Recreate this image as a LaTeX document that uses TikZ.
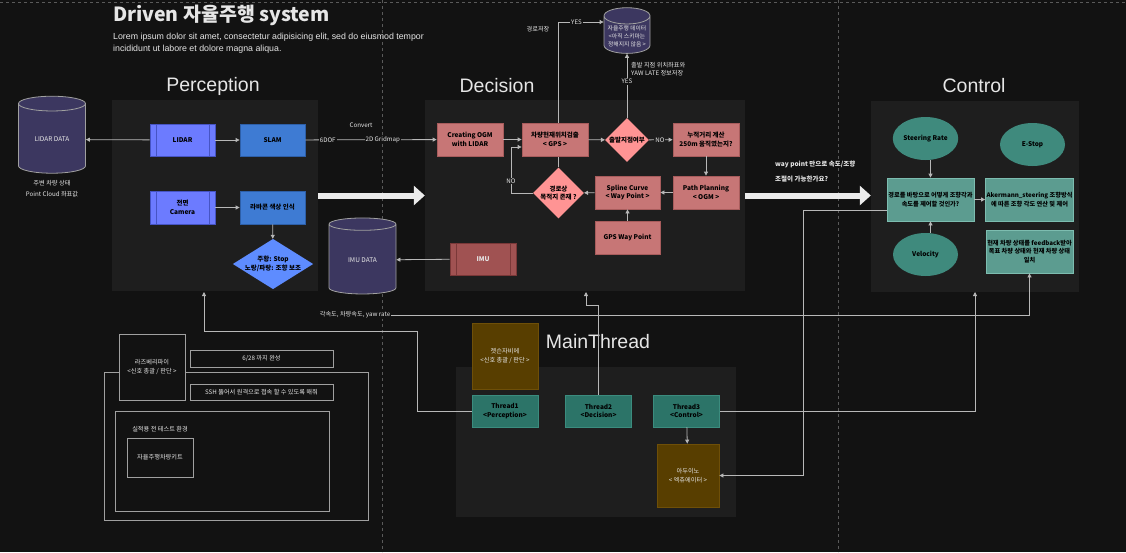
\documentclass[tikz,border=0pt]{standalone}
\usepackage{fontspec}
\setmainfont{Noto Sans CJK KR}
\newfontfamily\headfont{Liberation Sans}
\usetikzlibrary{shapes.geometric, arrows.meta}

\definecolor{bgcol}{HTML}{121212}
\definecolor{panelcol}{HTML}{1E1E1E}
\definecolor{guidecol}{HTML}{5A5A5A}
\definecolor{linecol}{HTML}{B8B8B8}
\definecolor{textcol}{HTML}{E6E6E6}
\definecolor{datafill}{HTML}{3C3760}
\definecolor{sensorfill}{HTML}{6C7BFF}
\definecolor{sensorline}{HTML}{4654C4}
\definecolor{slamfill}{HTML}{3E7BD3}
\definecolor{slamline}{HTML}{2D5FA8}
\definecolor{conefill}{HTML}{5E8CFF}
\definecolor{decfill}{HTML}{C77676}
\definecolor{decline}{HTML}{A85C5C}
\definecolor{diafill}{HTML}{FF9494}
\definecolor{imufill}{HTML}{A05252}
\definecolor{imuline}{HTML}{7A3838}
\definecolor{ctrlfill}{HTML}{5C9C90}
\definecolor{ctrlline}{HTML}{7DBDB0}
\definecolor{ovalfill}{HTML}{3F8A7D}
\definecolor{threadfill}{HTML}{2C7468}
\definecolor{threadline}{HTML}{3B8C7E}
\definecolor{boardfill}{HTML}{583E00}
\definecolor{boardline}{HTML}{6E4F08}
\definecolor{outlinecol}{HTML}{A0A0A0}

\pgfdeclarelayer{back}
\pgfdeclarelayer{mid}
\pgfsetlayers{back,mid,main}

\begin{document}
\begin{tikzpicture}[
    x=1pt, y=-1pt,
    every node/.style={align=center, inner sep=1pt, text=textcol, font=\fontsize{6.5}{8.5}\selectfont\bfseries},
    panel/.style={fill=panelcol, inner sep=0pt},
    heading/.style={font=\headfont\fontsize{19.5}{21}\selectfont},
    boxbase/.style={draw, line width=0.8pt, minimum width=65pt, minimum height=32pt, text=black},
    twinbar/.style={path picture={\draw[#1, line width=0.8pt]
        ([xshift=6pt]path picture bounding box.north west) -- ([xshift=6pt]path picture bounding box.south west)
        ([xshift=-6pt]path picture bounding box.north east) -- ([xshift=-6pt]path picture bounding box.south east);}},
    sensor/.style={boxbase, fill=sensorfill, draw=sensorline, twinbar=sensorline},
    slambox/.style={boxbase, fill=slamfill, draw=slamline},
    conedia/.style={diamond, fill=conefill, inner sep=0pt, aspect=1.6, text=black},
    decbox/.style={boxbase, fill=decfill, draw=decline, minimum width=66pt, minimum height=33pt},
    decdia/.style={diamond, fill=diafill, inner sep=0pt, text=black},
    imubox/.style={boxbase, fill=imufill, draw=imuline, twinbar=imuline, text=textcol},
    ctrlbox/.style={draw=ctrlline, fill=ctrlfill, line width=0.8pt, minimum width=87pt, minimum height=43pt, text=black, font=\fontsize{6.2}{8.5}\selectfont\bfseries},
    oval/.style={ellipse, fill=ovalfill, minimum width=65pt, minimum height=43pt, text=black},
    threadbox/.style={boxbase, fill=threadfill, draw=threadline, minimum width=66pt},
    boardbox/.style={fill=boardfill, draw=boardline, line width=0.8pt, font=\fontsize{6.2}{8.5}\selectfont},
    outlinebox/.style={draw=outlinecol, fill=bgcol, line width=1pt, font=\fontsize{6.2}{8.5}\selectfont},
    datacyl/.style={cylinder, shape border rotate=90, aspect=0.4, draw=outlinecol, fill=datafill, line width=0.8pt, font=\fontsize{6.5}{9}\selectfont},
    lbl/.style={font=\fontsize{6.2}{8}\selectfont, fill=#1},
    lbl/.default=bgcol,
    arrow/.style={draw=linecol, line width=0.8pt, -{Triangle[length=4pt, width=4pt]}},
    bigarrow/.style={draw=white!92!black, line width=6pt, -{Triangle[length=11pt, width=19pt]}},
    guide/.style={draw=guidecol, dashed, line width=0.6pt}
  ]

  \useasboundingbox (0,0) rectangle (1126,552);

  % background, guides and panels
  \begin{pgfonlayer}{back}
    \fill[bgcol] (0,0) rectangle (1126,552);
    \draw[guide] (0,2) -- (1126,2);
    \draw[guide] (382,0) -- (382,552);
    \draw[guide] (838,0) -- (838,552);
    \node[panel, minimum width=206pt, minimum height=191pt] (percpanel) at (215,195.5) {};
    \node[panel, minimum width=320pt, minimum height=191pt] (decpanel) at (585,195.5) {};
    \node[panel, minimum width=208pt, minimum height=191pt] (ctrlpanel) at (975,196.5) {};
    \node[panel, minimum width=280pt, minimum height=150pt] (mtpanel) at (596,442) {};
  \end{pgfonlayer}

  % title
  \node[anchor=west, font=\fontsize{19.5}{21}\selectfont\bfseries] (title) at (112,15) {Driven 자율주행 system};
  \node[anchor=north west, align=left, font=\headfont\fontsize{8.8}{11.5}\selectfont] (intro) at (112,32)
    {Lorem ipsum dolor sit amet, consectetur adipisicing elit, sed do eiusmod tempor\\incididunt ut labore et dolore magna aliqua.};

  \node[heading] (perchead) at (213,86) {Perception};
  \node[heading] (dechead) at (497,86) {Decision};
  \node[heading] (ctrlhead) at (974,86) {Control};
  \node[heading] (mthead) at (598,342) {MainThread};

  % perception
  \node[datacyl, minimum width=67pt, minimum height=77pt] (lidardata) at (52,139.5) {LIDAR DATA};
  \node[font=\fontsize{6.2}{11}\selectfont] (lidarnote) at (52,188.5) {주변 차량 상태\\Point Cloud 좌표값};
  \node[sensor] (lidar) at (182.5,140) {LIDAR};
  \node[slambox] (slam) at (272.5,140) {SLAM};
  \node[sensor, minimum height=33pt] (camera) at (182.5,207.5) {전면\\Camera};
  \node[slambox, minimum height=33pt] (cone) at (272.5,207.5) {라바콘 색상 인식};
  \node[conedia, minimum width=78pt, minimum height=48pt] (conesign) at (273,264) {주황: Stop\\노랑/파랑: 조향 보조};

  \draw[arrow] (lidar) -- (lidardata);
  \draw[arrow] (lidar) -- (slam);
  \draw[arrow] (camera) -- (cone);
  \draw[arrow] (cone) -- (conesign);

  % decision
  \node[decbox] (ogm) at (470,139.5) {Creating OGM\\with LIDAR};
  \node[decbox] (gps) at (555,139.5) {차량현재위치검출\\< GPS >};
  \node[decdia, minimum width=44pt, minimum height=44pt] (startdia) at (627,140) {출발지점여부};
  \node[decbox] (dist) at (706,139.5) {누적거리 계산\\250m 움직였는지?};
  \node[decbox] (pathplan) at (706,192.5) {Path Planning\\< OGM >};
  \node[decbox, minimum width=65pt] (spline) at (627.5,192.5) {Spline Curve\\< Way Point >};
  \node[decdia, minimum width=50pt, minimum height=48pt] (goaldia) at (558.5,193) {경로상\\목적지 존재 ?};
  \node[decbox, minimum width=65pt] (gpswp) at (627.5,237.5) {GPS Way Point};
  \node[imubox, minimum width=66pt] (imu) at (483,259) {IMU};
  \node[datacyl, minimum width=67pt, minimum height=76pt] (imudata) at (362.5,260) {IMU DATA};
  \node[datacyl, minimum width=46pt, minimum height=42pt, font=\fontsize{5.8}{8}\selectfont] (autodata) at (627,36) {자율주행 데이터\\<아직 스키마는\\정해지지 않음 >};
  \node[anchor=west, align=left, font=\fontsize{6.2}{8}\selectfont] (savenote) at (630,69) {출발 지점 위치좌표와\\YAW LATE 정보저장};
  \node[font=\fontsize{6.2}{8}\selectfont] (pathsave) at (538,29) {경로저장};
  \coordinate (yesbend) at (558.5,22);
  \coordinate (nobend) at (511,147);

  \draw[arrow] (slam) -- node[lbl, pos=0.17] {6DOF} node[lbl, pos=0.59] {2D Gridmap} (ogm);
  \node[font=\fontsize{6.2}{8}\selectfont] (convert) at (361,125) {Convert};
  \draw[arrow] (imu) -- (imudata);
  \draw[arrow] (ogm) -- (gps);
  \draw[arrow] (gps) -- (startdia);
  \draw[arrow] (startdia) -- node[lbl=panelcol, pos=0.46] {NO} (dist);
  \draw[arrow] (dist) -- (pathplan);
  \draw[arrow] (pathplan) -- (spline);
  \draw[arrow] (gpswp) -- (spline);
  \draw[arrow] (spline) -- (goaldia);
  \draw[arrow] (goaldia.west) -| node[lbl=panelcol, pos=0.63] {NO} (nobend) -- (nobend -| gps.west);
  \draw[arrow] (startdia.north) -- node[lbl, pos=0.57] {YES} (autodata.south);
  \begin{pgfonlayer}{mid}
    \draw[arrow] (goaldia.north) |- node[lbl, pos=0.7] {YES} (yesbend -| autodata.west);
  \end{pgfonlayer}

  % control
  \node[oval] (steer) at (925.5,138.5) {Steering Rate};
  \node[oval] (estop) at (1032.5,144.5) {E-Stop};
  \node[ctrlbox] (howbox) at (930.5,199.5) {경로를 바탕으로 어떻게 조향각과\\속도를 제어할 것인가?};
  \node[ctrlbox] (akbox) at (1029.5,199.5) {Akermann\_steering 조향방식\\에 따른 조향 각도 연산 및 제어};
  \node[oval] (velocity) at (925.5,254.5) {Velocity};
  \node[ctrlbox] (fbbox) at (1029.5,251.5) {현재 차량 상태를 feedback받아\\목표 차량 상태와 현재 차량 상태\\일치};
  \node[anchor=west, align=left, font=\fontsize{6.5}{15}\selectfont\bfseries] (waynote) at (774,171.5) {way point 만으로 속도/조향\\조절이 가능한가요?};

  \draw[arrow] (steer.south -| howbox.north) -- (howbox.north);
  \draw[arrow] (velocity.north -| howbox.south) -- (howbox.south);
  \draw[arrow] (howbox) -- (akbox);

  \draw[bigarrow] (percpanel.east) -- (decpanel.west);
  \draw[bigarrow] (decpanel.east) -- (decpanel.east -| ctrlpanel.west);

  % main thread
  \node[boardbox, minimum width=66pt, minimum height=66pt] (jetson) at (505,356) {젯슨자비에\\<신호 총괄 / 판단 >};
  \node[threadbox] (thread1) at (505,411) {Thread1\\<Perception>};
  \node[threadbox] (thread2) at (598.5,411) {Thread2\\<Decision>};
  \node[threadbox] (thread3) at (686.5,411) {Thread3\\<Control>};
  \node[boardbox, minimum width=62pt, minimum height=63pt] (arduino) at (688,475.5) {아두이노\\< 엑츄에이터 >};
  \node[lbl] (imurate) at (355,315) {각속도, 차량속도, yaw rate};
  \coordinate (t1bend) at (417,331);
  \coordinate (percin) at (204,292);
  \coordinate (t2bend) at (586,305);
  \coordinate (decin) at (586,292);
  \coordinate (ctrlin) at (975,292);
  \coordinate (actbend) at (803,210);

  \draw[arrow] (thread3) -- (arduino);
  \draw[arrow] (thread1.west) -| (t1bend) -| (percin);
  \draw[arrow] (thread2.north) |- (t2bend) -- (decin);
  \draw[arrow] (thread3.east) -| (ctrlin);
  \draw[arrow] (actbend -| howbox.west) -- (actbend) |- (arduino.east);
  \draw[arrow] (imurate.east) -| (fbbox.south);

  % test setup
  \draw[outlinecol, line width=1pt] (104,372) rectangle (368,520);
  \draw[outlinecol, line width=1pt] (115,411) rectangle (329,511);
  \node[outlinebox, minimum width=66pt, minimum height=66pt] (rpi) at (152,367) {라즈베리파이\\<신호 총괄 / 판단 >};
  \node[outlinebox, minimum width=143pt, minimum height=17pt] (deadline) at (261.5,358.5) {6/28 까지 완성};
  \node[outlinebox, minimum width=143pt, minimum height=16pt] (sshbox) at (261.5,392) {SSH 뚫어서 원격으로 접속 할 수 있도록 해줘};
  \node[font=\fontsize{6.2}{8}\selectfont] (testenv) at (160,429) {실적용 전 테스트 환경};
  \node[outlinebox, minimum width=66pt, minimum height=39pt] (kit) at (160,457.5) {자율주행차량키트};

\end{tikzpicture}
\end{document}
